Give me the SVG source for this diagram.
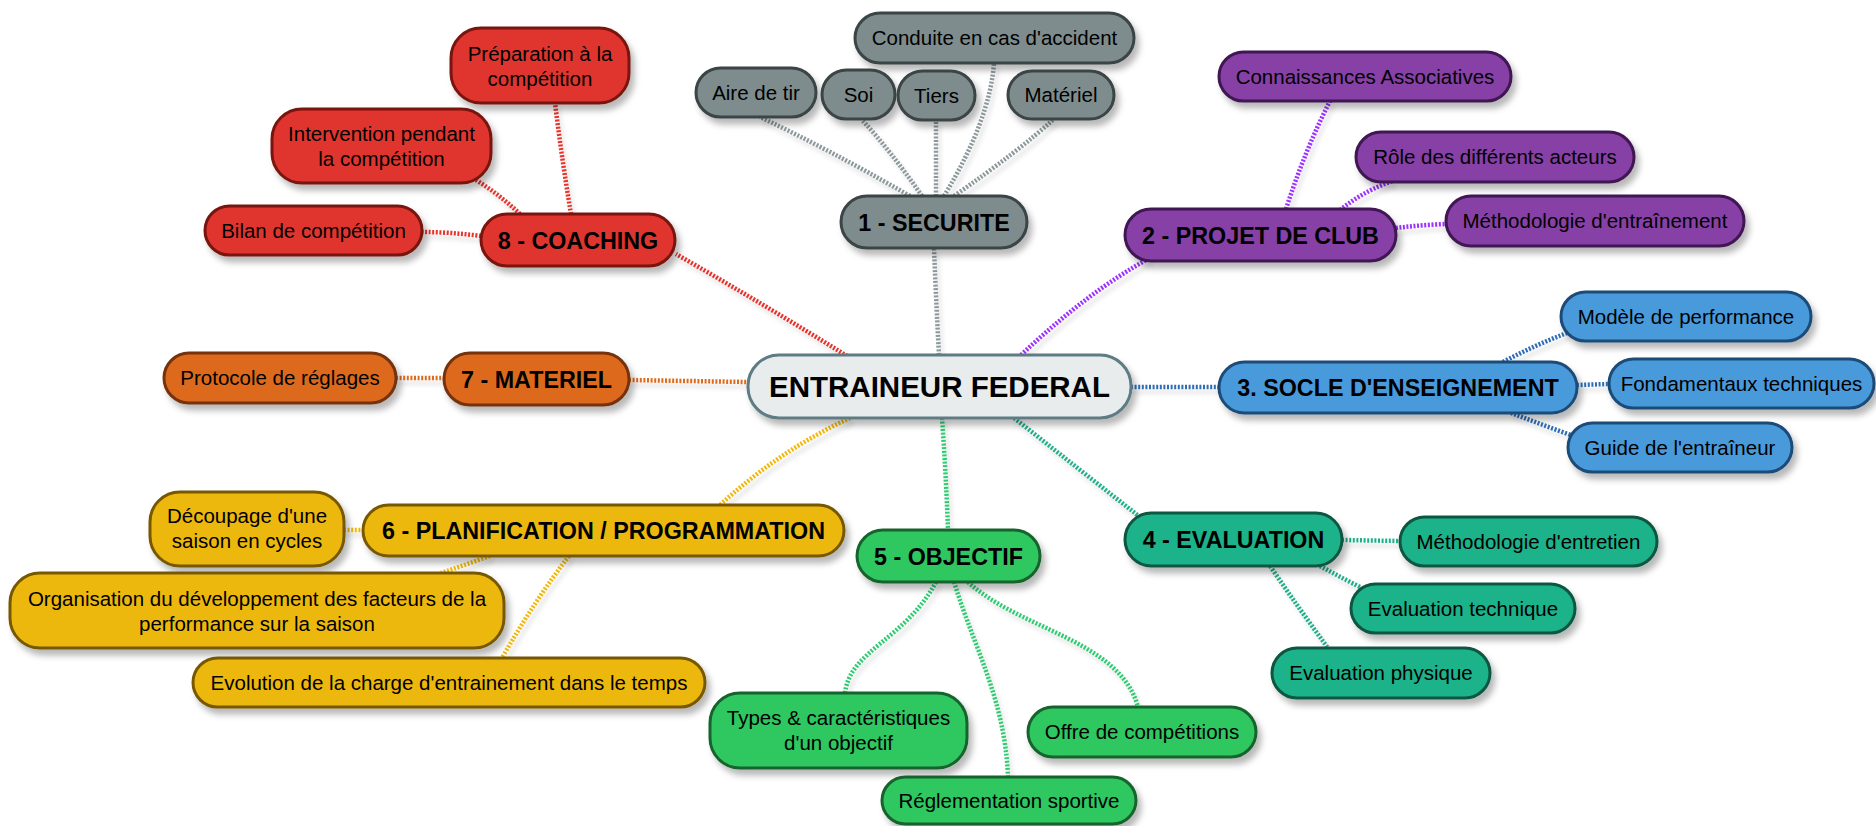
<svg xmlns="http://www.w3.org/2000/svg" width="1876" height="826" viewBox="0 0 1876 826">
<defs>
<filter id="sh" x="-10%" y="-20%" width="130%" height="160%">
<feDropShadow dx="4" dy="6" stdDeviation="3" flood-color="#000" flood-opacity="0.28"/>
</filter>
<filter id="lsh" x="-10%" y="-10%" width="120%" height="130%">
<feDropShadow dx="3" dy="5" stdDeviation="2" flood-color="#000" flood-opacity="0.15"/>
</filter>
<style>
rect{stroke-width:3}
text{font-family:"Liberation Sans",Arial,sans-serif;fill:#000;text-anchor:middle}
.s{font-size:20.5px}
.b{font-size:23.3px;font-weight:bold}
.m{font-size:29.5px;font-weight:bold}
.cn path{fill:none;stroke-width:4.5;stroke-dasharray:2 1.6}
.red rect{fill:#E0352F;stroke:#78150F}
.gry rect{fill:#7F8C8D;stroke:#3A4445}
.pur rect{fill:#8740A6;stroke:#3F1652}
.blu rect{fill:#4A9ADB;stroke:#1D4C78}
.tea rect{fill:#1EB28A;stroke:#0E5642}
.grn rect{fill:#2FC760;stroke:#17632D}
.yel rect{fill:#EDB811;stroke:#775900}
.ora rect{fill:#DD6A1E;stroke:#74330E}
.cen rect{fill:#E8ECEC;stroke:#5E7B84}
.lr{stroke:#E8302A}.lg{stroke:#8C989B}.lp{stroke:#9B30FF}.lb{stroke:#2E6DB4}.lt{stroke:#1FAF8A}.ln{stroke:#2ECC71}.ly{stroke:#F0B80F}.lo{stroke:#E06A1E}
</style>
</defs>
<rect width="1876" height="826" fill="#fff"/>
<g id="connectors" class="cn" filter="url(#lsh)">
<path class="lr" d="M847,356 Q765,305 676,254"/>
<path class="lr" d="M571,214 Q562,160 555,103"/>
<path class="lr" d="M520,214 Q500,195 476,180"/>
<path class="lr" d="M481,236 Q450,232 422,232"/>
<path class="lg" d="M939,355 Q936,300 934,248"/>
<path class="lg" d="M910,196 Q830,150 760,117"/>
<path class="lg" d="M922,196 Q890,150 862,120"/>
<path class="lg" d="M936,196 L936,120"/>
<path class="lg" d="M944,196 Q990,120 994,63"/>
<path class="lg" d="M954,196 Q1020,150 1054,119"/>
<path class="lp" d="M1021,355 Q1090,290 1150,258"/>
<path class="lp" d="M1286,209 Q1305,150 1330,101"/>
<path class="lp" d="M1340,210 Q1365,190 1393,181"/>
<path class="lp" d="M1396,228 Q1420,225 1446,224"/>
<path class="lb" d="M1131,387 L1219,387"/>
<path class="lb" d="M1503,362 Q1535,345 1567,333"/>
<path class="lb" d="M1577,385 L1609,384"/>
<path class="lb" d="M1511,413 Q1540,424 1571,435"/>
<path class="lt" d="M1014,418 Q1080,470 1140,517"/>
<path class="lt" d="M1342,540 L1400,541"/>
<path class="lt" d="M1320,566 Q1340,577 1362,588"/>
<path class="lt" d="M1270,566 Q1300,610 1328,648"/>
<path class="ln" d="M942,418 Q946,475 948,530"/>
<path class="ln" d="M936,582 C905,640 850,650 845,693"/>
<path class="ln" d="M954,582 C975,650 1005,700 1008,777"/>
<path class="ln" d="M968,582 C1020,630 1120,640 1138,707"/>
<path class="ly" d="M850,418 Q780,450 720,505"/>
<path class="ly" d="M344,530 L363,530"/>
<path class="ly" d="M490,556 Q465,565 441,573"/>
<path class="ly" d="M569,556 Q535,600 502,658"/>
<path class="lo" d="M629,380 L748,382"/>
<path class="lo" d="M396,378 L444,378"/>
</g>
<g id="central" class="cen"><rect x="748" y="355" width="383" height="63" rx="31" filter="url(#sh)"/><text class="m" x="939.5" y="397">ENTRAINEUR FEDERAL</text></g>
<g id="securite" class="gry"><rect x="841" y="196" width="186" height="52" rx="26" filter="url(#sh)"/><text class="b" x="934" y="230.5">1 - SECURITE</text></g>
<g id="conduite" class="gry"><rect x="855" y="13" width="279" height="50" rx="25" filter="url(#sh)"/><text class="s" x="994.5" y="45">Conduite en cas d'accident</text></g>
<g id="aire" class="gry"><rect x="696" y="68" width="120" height="49" rx="24.5" filter="url(#sh)"/><text class="s" x="756" y="99.5">Aire de tir</text></g>
<g id="soi" class="gry"><rect x="822" y="70" width="73" height="49" rx="24.5" filter="url(#sh)"/><text class="s" x="858.5" y="101.5">Soi</text></g>
<g id="tiers" class="gry"><rect x="898" y="71" width="77" height="49" rx="24.5" filter="url(#sh)"/><text class="s" x="936.5" y="102.5">Tiers</text></g>
<g id="materiel-s" class="gry"><rect x="1008" y="71" width="106" height="48" rx="24" filter="url(#sh)"/><text class="s" x="1061" y="102">Matériel</text></g>
<g id="projet" class="pur"><rect x="1125" y="209" width="271" height="52" rx="26" filter="url(#sh)"/><text class="b" x="1260.5" y="243.5">2 - PROJET DE CLUB</text></g>
<g id="connaissances" class="pur"><rect x="1219" y="52" width="292" height="49" rx="24.5" filter="url(#sh)"/><text class="s" x="1365" y="83.5">Connaissances Associatives</text></g>
<g id="role" class="pur"><rect x="1356" y="132" width="278" height="50" rx="25" filter="url(#sh)"/><text class="s" x="1495" y="164">Rôle des différents acteurs</text></g>
<g id="methodo-entr" class="pur"><rect x="1446" y="196" width="298" height="50" rx="25" filter="url(#sh)"/><text class="s" x="1595" y="228">Méthodologie d'entraînement</text></g>
<g id="socle" class="blu"><rect x="1219" y="362" width="358" height="51" rx="25.5" filter="url(#sh)"/><text class="b" x="1398" y="396">3. SOCLE D'ENSEIGNEMENT</text></g>
<g id="modele" class="blu"><rect x="1561" y="292" width="250" height="49" rx="24.5" filter="url(#sh)"/><text class="s" x="1686" y="323.5">Modèle de performance</text></g>
<g id="fondamentaux" class="blu"><rect x="1609" y="359" width="265" height="49" rx="24.5" filter="url(#sh)"/><text class="s" x="1741.5" y="390.5">Fondamentaux techniques</text></g>
<g id="guide" class="blu"><rect x="1568" y="423" width="224" height="49" rx="24.5" filter="url(#sh)"/><text class="s" x="1680" y="454.5">Guide de l'entraîneur</text></g>
<g id="evaluation" class="tea"><rect x="1125" y="513" width="217" height="53" rx="26.5" filter="url(#sh)"/><text class="b" x="1233.5" y="548">4 - EVALUATION</text></g>
<g id="entretien" class="tea"><rect x="1400" y="517" width="257" height="49" rx="24.5" filter="url(#sh)"/><text class="s" x="1528.5" y="548.5">Méthodologie d'entretien</text></g>
<g id="eval-tech" class="tea"><rect x="1351" y="584" width="224" height="49" rx="24.5" filter="url(#sh)"/><text class="s" x="1463" y="615.5">Evaluation technique</text></g>
<g id="eval-phys" class="tea"><rect x="1272" y="648" width="218" height="50" rx="25" filter="url(#sh)"/><text class="s" x="1381" y="680">Evaluation physique</text></g>
<g id="objectif" class="grn"><rect x="857" y="530" width="183" height="52" rx="26" filter="url(#sh)"/><text class="b" x="948.5" y="564.5">5 - OBJECTIF</text></g>
<g id="types" class="grn"><rect x="710" y="693" width="257" height="75" rx="30" filter="url(#sh)"/><text class="s" x="838.5" y="725">Types &amp; caractéristiques</text><text class="s" x="838.5" y="750">d'un objectif</text></g>
<g id="offre" class="grn"><rect x="1028" y="707" width="228" height="50" rx="25" filter="url(#sh)"/><text class="s" x="1142" y="739">Offre de compétitions</text></g>
<g id="reglementation" class="grn"><rect x="882" y="777" width="254" height="47" rx="23.5" filter="url(#sh)"/><text class="s" x="1009" y="808">Réglementation sportive</text></g>
<g id="planification" class="yel"><rect x="363" y="505" width="481" height="51" rx="25.5" filter="url(#sh)"/><text class="b" x="603.5" y="539">6 - PLANIFICATION / PROGRAMMATION</text></g>
<g id="decoupage" class="yel"><rect x="150" y="492" width="194" height="74" rx="30" filter="url(#sh)"/><text class="s" x="247" y="523">Découpage d'une</text><text class="s" x="247" y="548">saison en cycles</text></g>
<g id="organisation" class="yel"><rect x="10" y="573" width="494" height="75" rx="30" filter="url(#sh)"/><text class="s" x="257" y="606">Organisation du développement des facteurs de la</text><text class="s" x="257" y="631">performance sur la saison</text></g>
<g id="evolution" class="yel"><rect x="193" y="658" width="512" height="49" rx="24.5" filter="url(#sh)"/><text class="s" x="449" y="689.5">Evolution de la charge d'entrainement dans le temps</text></g>
<g id="materiel" class="ora"><rect x="444" y="353" width="185" height="52" rx="26" filter="url(#sh)"/><text class="b" x="536.5" y="387.5">7 - MATERIEL</text></g>
<g id="protocole" class="ora"><rect x="164" y="353" width="232" height="50" rx="25" filter="url(#sh)"/><text class="s" x="280" y="385">Protocole de réglages</text></g>
<g id="coaching" class="red"><rect x="481" y="214" width="194" height="52" rx="26" filter="url(#sh)"/><text class="b" x="578" y="248.5">8 - COACHING</text></g>
<g id="preparation" class="red"><rect x="451" y="28" width="178" height="75" rx="30" filter="url(#sh)"/><text class="s" x="540" y="61">Préparation à la</text><text class="s" x="540" y="86">compétition</text></g>
<g id="intervention" class="red"><rect x="272" y="109" width="219" height="74" rx="30" filter="url(#sh)"/><text class="s" x="381.5" y="141">Intervention pendant</text><text class="s" x="381.5" y="166">la compétition</text></g>
<g id="bilan" class="red"><rect x="205" y="206" width="217" height="49" rx="24.5" filter="url(#sh)"/><text class="s" x="313.5" y="237.5">Bilan de compétition</text></g>
</svg>
